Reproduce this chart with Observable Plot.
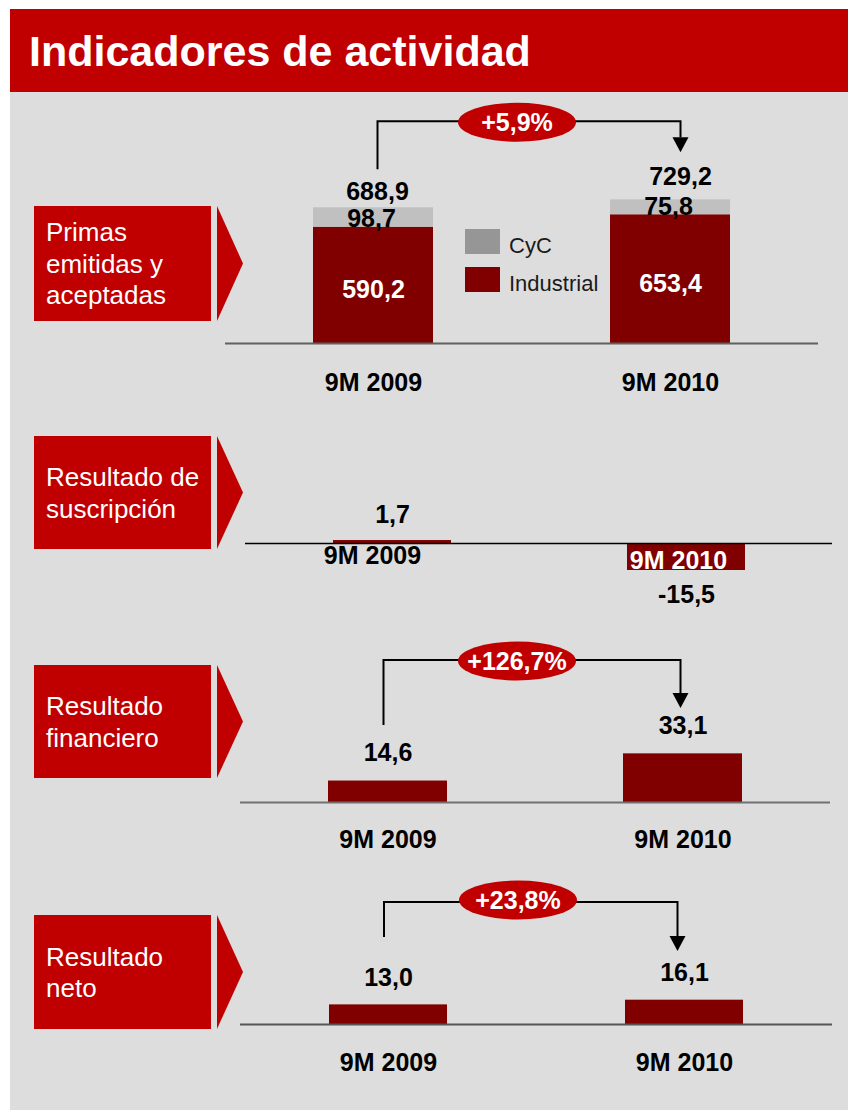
<!DOCTYPE html>
<html>
<head>
<meta charset="utf-8">
<script src="https://cdn.jsdelivr.net/npm/d3@7"></script>
<script src="https://cdn.jsdelivr.net/npm/@observablehq/plot@0.6"></script>
<style>
html,body{margin:0;padding:0;background:#fff;}
#page{position:relative;width:848px;height:1110px;overflow:hidden;font-family:"Liberation Sans",Arial,sans-serif;}
#title{position:absolute;left:10px;top:9px;width:838px;height:83px;background:#c00000;}
#title span{position:absolute;left:19px;top:21px;line-height:43px;font-size:43px;font-weight:bold;color:#fff;white-space:nowrap;}
#panel{position:absolute;left:10px;top:92px;width:838px;height:1018px;background:#dddddd;}
.tag{position:absolute;left:34px;width:177px;background:#c00000;color:#fff;font-size:26px;line-height:31.5px;display:flex;align-items:center;padding-left:12px;box-sizing:border-box;}
.tag div{position:relative;top:1px;}
.chev{position:absolute;left:217px;width:26px;background:#c00000;clip-path:polygon(0 0,100% 50%,0 100%);}
.chart{position:absolute;left:0;}
.lg-swatches{position:absolute;left:465px;top:229px;margin:0;font-family:"Liberation Sans",Arial,sans-serif;font-size:22px;color:#1a1a1a;}
.lg-swatch{padding-bottom:13px;line-height:25px;}
.lg-swatch > svg{margin-right:9px;}
.lg-swatch-label{position:relative;top:4px;}
</style>
</head>
<body>
<div id="page">
  <div id="title"><span>Indicadores de actividad</span></div>
  <div id="panel"></div>
</div>
<script>
// ---------- data ----------
const periods = ["9M 2009", "9M 2010"];
const seriesNames = ["Industrial", "CyC"];
const primasIndustrial = [590.2, 653.4];
const primasCyC = [98.7, 75.8];
const primasTotal = [688.9, 729.2];
const suscripcion = [1.7, -15.5];
const financiero = [14.6, 33.1];
const neto = [13.0, 16.1];
const growthLabels = ["+5,9%", "+126,7%", "+23,8%"];
const sectionTitles = [
  ["Primas", "emitidas y", "aceptadas"],
  ["Resultado de", "suscripción"],
  ["Resultado", "financiero"],
  ["Resultado", "neto"]
];
const legendNames = ["CyC", "Industrial"];

// ---------- helpers ----------
const FONT = "'Liberation Sans', Arial, sans-serif";
const DARK = "#800000";
const RED = "#c00000";
const fmt = v => v.toFixed(1).replace(".", ",");
const page = document.getElementById("page");

function addTag(lines, top, height) {
  const t = document.createElement("div");
  t.className = "tag";
  t.style.top = top + "px";
  t.style.height = height + "px";
  t.innerHTML = "<div>" + lines.join("<br>") + "</div>";
  page.appendChild(t);
  const c = document.createElement("div");
  c.className = "chev";
  c.style.top = top + "px";
  c.style.height = height + "px";
  page.appendChild(c);
}

function place(svg, top) {
  svg.classList.add("chart");
  svg.style.top = top + "px";
  page.appendChild(svg);
}

// bracket with arrow and growth ellipse, positioned from the scaled values
function bracket(label, from, to, o) {
  return (index, scales) => {
    const x = scales.x, y = scales.y;
    const bw = x.bandwidth ? x.bandwidth() : 0;
    const cx0 = x(periods[0]) + bw / 2 + o.dx0;
    const cx1 = x(periods[1]) + bw / 2 + o.dx1;
    const yStart = y(from) - o.gapStart;
    const yTop = y(Math.max(from, to)) - o.gapTop;
    const yTip = y(to) - o.gapTip;
    const ex = (x(periods[0]) + x(periods[1]) + bw) / 2 + o.dxE;
    const ey = yTop + o.dyE;
    const head = 15;
    const g = d3.create("svg:g");
    g.append("path")
      .attr("d", `M${cx0},${yStart}V${yTop}H${cx1}V${yTip - head}`)
      .attr("fill", "none").attr("stroke", "#000").attr("stroke-width", 2);
    g.append("path")
      .attr("d", `M${cx1 - 8},${yTip - head}L${cx1 + 8},${yTip - head}L${cx1},${yTip}Z`)
      .attr("fill", "#000");
    g.append("ellipse").attr("cx", ex).attr("cy", ey).attr("rx", 59).attr("ry", 19.5).attr("fill", RED);
    g.append("text").attr("x", ex).attr("y", ey + 9).attr("text-anchor", "middle")
      .attr("fill", "#fff").attr("font-weight", "bold").attr("font-size", 25)
      .attr("font-family", FONT).text(label);
    return g.node();
  };
}

const baseStyle = {background: "transparent", overflow: "visible", fontFamily: FONT, color: "#000"};
const txt = {fontSize: 25, fontWeight: "bold", fill: "#000"};

// ---------- section tags ----------
addTag(sectionTitles[0], 206, 115);
addTag(sectionTitles[1], 436, 113);
addTag(sectionTitles[2], 665, 113);
addTag(sectionTitles[3], 915, 114);

// ---------- panel 1: primas ----------
const primasRows = periods.flatMap((p, i) => [
  {period: p, serie: seriesNames[0], value: primasIndustrial[i]},
  {period: p, serie: seriesNames[1], value: primasCyC[i]}
]);
const indRows = periods.map((p, i) => ({period: p, value: primasIndustrial[i]}));
const cycRows = periods.map((p, i) => ({period: p, base: primasIndustrial[i], value: primasCyC[i]}));
const totRows = periods.map((p, i) => ({period: p, value: primasTotal[i]}));

place(Plot.plot({
  width: 848, height: 320,
  marginLeft: 225, marginRight: 30, marginTop: 0, marginBottom: 69,
  style: baseStyle,
  x: {domain: periods, paddingInner: 0.596, paddingOuter: 0.295, label: null},
  y: {domain: [0, 1274], axis: null},
  color: {domain: seriesNames, range: [DARK, "#c0c0c0"]},
  marks: [
    Plot.barY(primasRows, {x: "period", y: "value", fill: "serie"}),
    Plot.ruleY([0], {stroke: "#606060", strokeWidth: 2}),
    Plot.text(indRows, {x: "period", y: d => d.value / 2, text: d => fmt(d.value), ...txt, fill: "#fff", dy: 5}),
    Plot.text(cycRows, {x: "period", y: "base", text: d => fmt(d.value), ...txt, lineAnchor: "bottom", dx: -2, dy: 0}),
    Plot.text(totRows.slice(0, 1), {x: "period", y: "value", text: d => fmt(d.value), ...txt, lineAnchor: "bottom", dx: 4, dy: -8}),
    Plot.text(totRows.slice(1), {x: "period", y: "value", text: d => fmt(d.value), ...txt, lineAnchor: "bottom", dx: 10, dy: -15}),
    Plot.axisX({tickSize: 0, tickPadding: 30, fontSize: 25, fontWeight: "bold", label: null}),
    bracket(growthLabels[0], primasTotal[0], primasTotal[1], {dx0: 4.5, dx1: 10.5, gapStart: 38, gapTop: 78, gapTip: 47, dxE: -4.5, dyE: 1})
  ]
}), 92);

const leg = Plot.legend({
  color: {domain: legendNames, range: ["#969696", DARK]},
  legend: "swatches", columns: 1, swatchWidth: 35, swatchHeight: 25, className: "lg"
});
page.appendChild(leg);

// ---------- panel 2: resultado de suscripción ----------
const suscRows = periods.map((p, i) => ({period: p, value: suscripcion[i]}));
const pos = suscRows.filter(d => d.value >= 0);
const neg = suscRows.filter(d => d.value < 0);
place(Plot.plot({
  width: 848, height: 200,
  marginLeft: 245, marginRight: 16, marginTop: 0, marginBottom: 0,
  style: baseStyle,
  x: {domain: periods, paddingInner: 0.599, paddingOuter: 0.297, axis: null},
  y: {domain: [-44.2, 70.6], axis: null},
  marks: [
    Plot.barY(suscRows, {x: "period", y: "value", fill: DARK}),
    Plot.ruleY([0], {stroke: "#000", strokeWidth: 1.5}),
    Plot.text(pos, {x: "period", y: "value", text: d => fmt(d.value), ...txt, lineAnchor: "bottom", dy: -18}),
    Plot.text(neg, {x: "period", y: "value", text: d => fmt(d.value), ...txt, lineAnchor: "top", dy: 15}),
    Plot.text(pos, {x: "period", y: () => 0, text: "period", ...txt, lineAnchor: "bottom", dx: -20, dy: 21}),
    Plot.text(neg, {x: "period", y: () => 0, text: "period", ...txt, fill: "#fff", lineAnchor: "bottom", dx: -8, dy: 26})
  ]
}), 420);

// ---------- panel 3: resultado financiero ----------
const finRows = periods.map((p, i) => ({period: p, value: financiero[i]}));
place(Plot.plot({
  width: 848, height: 250,
  marginLeft: 240, marginRight: 18, marginTop: 0, marginBottom: 68,
  style: baseStyle,
  x: {domain: periods, paddingInner: 0.597, paddingOuter: 0.298, label: null},
  y: {domain: [0, 123.8], axis: null},
  marks: [
    Plot.barY(finRows, {x: "period", y: "value", fill: DARK}),
    Plot.ruleY([0], {stroke: "#707070", strokeWidth: 2}),
    Plot.text(finRows, {x: "period", y: "value", text: d => fmt(d.value), ...txt, lineAnchor: "bottom", dy: -20}),
    Plot.axisX({tickSize: 0, tickPadding: 28, fontSize: 25, fontWeight: "bold", label: null}),
    bracket(growthLabels[1], financiero[0], financiero[1], {dx0: -4, dx1: -2, gapStart: 55.5, gapTop: 93.3, gapTip: 45.3, dxE: -18, dyE: 1})
  ]
}), 620);

// ---------- panel 4: resultado neto ----------
const netRows = periods.map((p, i) => ({period: p, value: neto[i]}));
place(Plot.plot({
  width: 848, height: 240,
  marginLeft: 240, marginRight: 16, marginTop: 0, marginBottom: 86,
  style: baseStyle,
  x: {domain: periods, paddingInner: 0.6, paddingOuter: 0.297, label: null},
  y: {domain: [0, 102], axis: null},
  marks: [
    Plot.barY(netRows, {x: "period", y: "value", fill: DARK}),
    Plot.ruleY([0], {stroke: "#555555", strokeWidth: 2}),
    Plot.text(netRows, {x: "period", y: "value", text: d => fmt(d.value), ...txt, lineAnchor: "bottom", dy: -19}),
    Plot.axisX({tickSize: 0, tickPadding: 29, fontSize: 25, fontWeight: "bold", label: null}),
    bracket(growthLabels[2], neto[0], neto[1], {dx0: -4, dx1: -6.5, gapStart: 67.4, gapTop: 97.7, gapTip: 48.7, dxE: -18, dyE: -2})
  ]
}), 870);
</script>
</body>
</html>
